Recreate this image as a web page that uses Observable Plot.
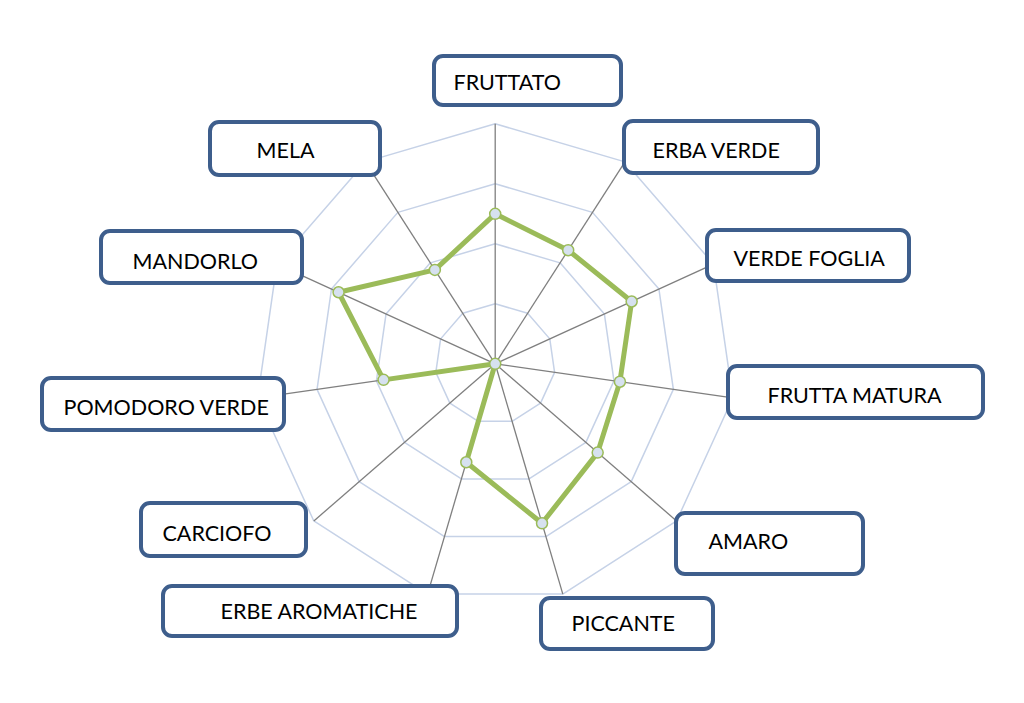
<!DOCTYPE html>
<html>
<head>
<meta charset="utf-8">
<script src="https://cdn.jsdelivr.net/npm/d3@7"></script>
<script src="https://cdn.jsdelivr.net/npm/@observablehq/plot@0.6"></script>
<style>
  html, body { margin: 0; padding: 0; background: #ffffff; }
  #chart svg { display: block; }
</style>
</head>
<body>
<div id="chart"></div>
<script>
// ---- data ----
const categories = ["FRUTTATO", "ERBA VERDE", "VERDE FOGLIA", "FRUTTA MATURA", "AMARO", "PICCANTE",
                    "ERBE AROMATICHE", "CARCIOFO", "POMODORO VERDE", "MANDORLO", "MELA"];
const values = [2.5, 2.25, 2.5, 2.1, 2.26, 2.77, 1.71, 0, 1.88, 2.87, 1.86];
const gridLevels = [1, 2, 3, 4];

// ---- layout (page pixels) ----
const W = 1024, H = 703;
const CX = 494.7, CY = 363.3, UNIT = 60; // pixels per value unit
// label boxes: [x1, y1, x2, y2, textX, textY] in page pixels
const boxLayout = [
  [432, 54, 623, 107, 453, 82.5],
  [622, 119, 820, 175, 652, 150.5],
  [705, 228, 911, 283, 733, 259],
  [726, 364, 985, 420, 767, 396],
  [674, 511, 865, 576, 708, 542],
  [539, 596, 715, 651, 571, 624],
  [161, 584, 459, 638, 220, 612],
  [139, 501, 308, 558, 162, 534],
  [40, 376, 286, 432, 63, 408],
  [99, 229, 304, 285, 132, 262],
  [208, 120, 382, 177, 256, 151]
];

const n = categories.length;
const angle = i => (i * 2 * Math.PI) / n;
const px = x => (x - CX) / UNIT;
const py = y => (CY - y) / UNIT;

const maxLevel = d3.max(gridLevels);
const rings = gridLevels.flatMap(level =>
  d3.range(n + 1).map(i => ({level, x: level * Math.sin(angle(i % n)), y: level * Math.cos(angle(i % n))}))
);
const spokes = categories.map((c, i) => ({c, x: maxLevel * Math.sin(angle(i)), y: maxLevel * Math.cos(angle(i))}));
const series = categories.map((c, i) => ({c, v: values[i], x: values[i] * Math.sin(angle(i)), y: values[i] * Math.cos(angle(i))}));
const seriesClosed = [...series, series[0]];
const inset = 2;
const boxes = categories.map((c, i) => {
  const b = boxLayout[i];
  return {c, x1: px(b[0] + inset), x2: px(b[2] - inset), y1: py(b[1] + inset), y2: py(b[3] - inset), tx: px(b[4]), ty: py(b[5])};
});

const chart = Plot.plot({
  width: W,
  height: H,
  margin: 0,
  style: {background: "#ffffff"},
  x: {domain: [px(0), px(W)], range: [0, W], axis: null},
  y: {domain: [py(H), py(0)], range: [H, 0], axis: null},
  marks: [
    Plot.line(rings, {x: "x", y: "y", z: "level", stroke: "#c6d2e7", strokeWidth: 1.5}),
    Plot.link(spokes, {x1: 0, y1: 0, x2: "x", y2: "y", stroke: "#7f7f7f", strokeWidth: 1.3}),
    Plot.line(seriesClosed, {x: "x", y: "y", stroke: "#9bbb59", strokeWidth: 5, strokeLinejoin: "round"}),
    Plot.dot(series, {x: "x", y: "y", r: 5.5, fill: "#d6e1ef", stroke: "#9bbb59", strokeWidth: 1.5}),
    Plot.rect(boxes, {x1: "x1", x2: "x2", y1: "y1", y2: "y2", fill: "#ffffff", stroke: "#3e5e8c", strokeWidth: 4, rx: 9}),
    Plot.text(boxes, {x: "tx", y: "ty", text: "c", textAnchor: "start", fill: "#000000",
      fontSize: 21.5, fontFamily: "Lato, 'Open Sans', sans-serif"})
  ]
});
document.getElementById("chart").appendChild(chart);
</script>
</body>
</html>
